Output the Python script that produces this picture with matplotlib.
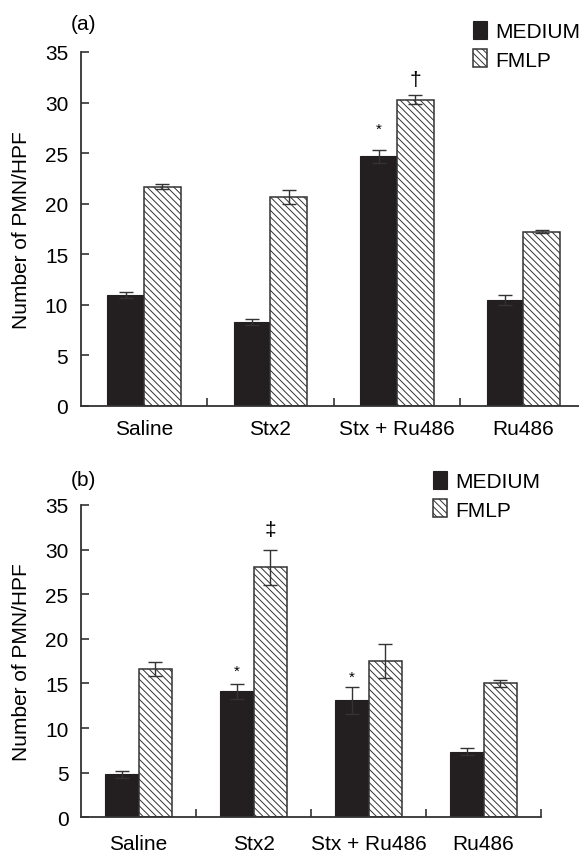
import numpy as np
import matplotlib
matplotlib.use("Agg")
import matplotlib.pyplot as plt
from matplotlib.ticker import FixedLocator

plt.rcParams['font.family'] = ['Liberation Sans', 'DejaVu Sans']
plt.rcParams['hatch.linewidth'] = 0.7
plt.rcParams['hatch.color'] = '#222222'

groups = ["Saline", "Stx2", "Stx + Ru486", "Ru486"]
series = ["MEDIUM", "FMLP"]

# panel (a)
medium_a = [11.0, 8.3, 24.7, 10.5]
medium_a_err = [0.3, 0.33, 0.63, 0.5]
fmlp_a = [21.7, 20.7, 30.3, 17.25]
fmlp_a_err = [0.2, 0.7, 0.4, 0.15]

# panel (b)
medium_b = [4.8, 14.1, 13.1, 7.35]
medium_b_err = [0.35, 0.85, 1.5, 0.4]
fmlp_b = [16.6, 28.0, 17.55, 15.0]
fmlp_b_err = [0.75, 2.0, 1.9, 0.4]

# significance marks: (group, series, y, symbol)
marks_a = [(2, 0, 27.4, "*"), (2, 1, 32.3, "\u2020")]
marks_b = [(1, 0, 16.4, "*"), (2, 0, 15.8, "*"), (1, 1, 32.3, "\u2021")]

W, H = 579, 854
fig = plt.figure(figsize=(W / 100, H / 100), dpi=100)

bw = 0.29
edge = '#333333'
fs = 15


def panel(rect, med, med_err, fm, fm_err, marks, tag, leg_xy, label_pad):
    ax = fig.add_axes(rect)
    x = np.arange(len(groups))
    b1 = ax.bar(x - bw / 2, med, bw, color='#231f20', edgecolor='#231f20', linewidth=0.8,
                yerr=med_err, capsize=5, error_kw=dict(ecolor=edge, elinewidth=1.0, capthick=1.0),
                label=series[0])
    b2 = ax.bar(x + bw / 2, fm, bw, color='white', edgecolor=edge, linewidth=1.1, hatch='\\\\\\\\\\',
                yerr=fm_err, capsize=5, error_kw=dict(ecolor=edge, elinewidth=1.0, capthick=1.0),
                label=series[1])
    for g, s, y, sym in marks:
        xs = g - bw / 2 if s == 0 else g + bw / 2
        size = 11 if sym == "*" else fs
        ax.text(xs, y, sym, ha='center', va='center', fontsize=size)
    ax.set_xlim(-0.5, 3.5)
    ax.set_ylim(0, 35)
    ax.set_yticks(np.arange(0, 36, 5))
    ax.set_xticks(x)
    ax.set_xticklabels(groups)
    ax.xaxis.set_minor_locator(FixedLocator([0.5, 1.5, 2.5, 3.5]))
    ax.tick_params(axis='x', which='major', length=0, pad=label_pad, labelsize=fs)
    ax.tick_params(axis='x', which='minor', direction='in', length=6, width=1.2, color=edge)
    ax.tick_params(axis='y', direction='in', length=6, width=1.2, color=edge, pad=9, labelsize=fs)
    for side in ['top', 'right']:
        ax.spines[side].set_visible(False)
    for side in ['left', 'bottom']:
        ax.spines[side].set_color(edge)
        ax.spines[side].set_linewidth(1.3)
    ax.set_ylabel("Number of PMN/HPF", fontsize=fs)
    wpx = rect[2] * W
    ax.yaxis.set_label_coords((31 - rect[0] * W) / wpx, 0.5)
    fig.text(83 / W, tag[1], tag[0], ha='center', va='center', fontsize=fs)
    ax.legend(handles=[b1, b2], labels=series, loc='upper left', bbox_to_anchor=leg_xy,
              bbox_transform=fig.transFigure, frameon=False, fontsize=fs, borderpad=0,
              borderaxespad=0, handlelength=0.65, handleheight=0.95, handletextpad=0.4,
              labelspacing=0.4)
    return ax


panel([80.7 / W, 1 - 407 / H, 506 / W, 354 / H], medium_a, medium_a_err, fmlp_a, fmlp_a_err,
      marks_a, ("(a)", 1 - 25 / H), (473 / W, 1 - 22 / H), 9.5)
panel([81 / W, 1 - 818.3 / H, 460 / W, 312.3 / H], medium_b, medium_b_err, fmlp_b, fmlp_b_err,
      marks_b, ("(b)", 1 - 481 / H), (433 / W, 1 - 472 / H), 12)

fig.savefig("out.png", dpi=100)
